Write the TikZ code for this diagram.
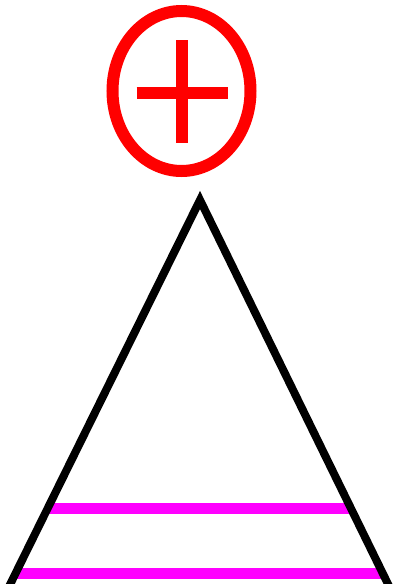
\documentclass[tikz,border=0pt]{standalone}
\usepackage{xcolor}
\usetikzlibrary{calc}
\definecolor{plusred}{RGB}{255,0,0}
\definecolor{bandpink}{RGB}{255,0,255}

\begin{document}
\begin{tikzpicture}[
    x=1pt, y=-1pt,
    ring/.style={draw=plusred, line width=12pt},
    cross/.style={draw=plusred, line width=12pt},
    cone/.style={draw=black, line width=8pt, line join=miter},
    band/.style={draw=bandpink, line width=11pt}
]
\useasboundingbox (0,0) rectangle (392,584);
% circled plus
\coordinate (c) at (181.5,91);
\draw[ring] (c) ellipse [x radius=69, y radius=80];
\draw[cross] ($(c)+(-45,2)$) -- ($(c)+(46,2)$);
\draw[cross] ($(c)+(0,-51)$) -- ($(c)+(0,52)$);
% tree triangle
\coordinate (top) at (200,200);
\coordinate (bl) at (2.4,600);
\coordinate (br) at (395.8,600);
\draw[band] ($(top)!0.77!(bl)$) -- ($(top)!0.77!(br)$);
\draw[band] ($(top)!0.9325!(bl)$) -- ($(top)!0.9325!(br)$);
\draw[cone] (bl) -- (top) -- (br);
\end{tikzpicture}
\end{document}
